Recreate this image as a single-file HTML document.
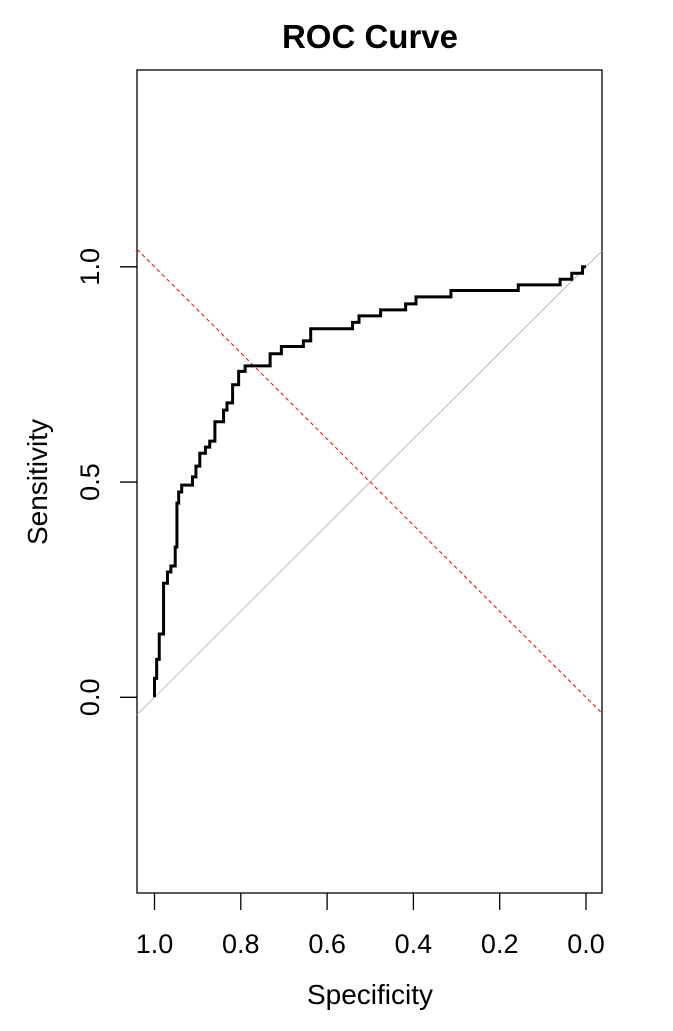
<!DOCTYPE html>
<html><head><meta charset="utf-8"><style>
body{margin:0;background:#fff}
svg{display:block;font-family:"Liberation Sans",Arial,sans-serif}
</style></head><body>
<svg width="673" height="1031">
<text x="370" y="48" text-anchor="middle" font-size="33" font-weight="bold">ROC Curve</text>
<rect x="137" y="70" width="465" height="823" fill="none" stroke="#000" stroke-width="1.3"/>
<g id="axes"></g>
<g id="marks"></g>
<text x="370" y="1004" text-anchor="middle" font-size="28">Specificity</text>
<text transform="translate(47,482) rotate(-90)" text-anchor="middle" font-size="28">Sensitivity</text>
</svg>
<script>
const xTicks=[1.0,0.8,0.6,0.4,0.2,0.0];
const xTickLabels=["1.0","0.8","0.6","0.4","0.2","0.0"];
const yTicks=[0.0,0.5,1.0];
const yTickLabels=["0.0","0.5","1.0"];
const stepSpec=[1.000,0.995,0.989,0.979,0.970,0.962,0.952,0.948,0.944,0.937,0.912,0.904,0.895,0.882,0.872,0.860,0.840,0.832,0.819,0.805,0.790,0.732,0.706,0.655,0.638,0.541,0.526,0.476,0.418,0.394,0.313,0.157,0.060,0.033,0.008];
const stepSens=[0.044,0.088,0.147,0.265,0.291,0.305,0.349,0.451,0.477,0.493,0.512,0.537,0.567,0.581,0.595,0.640,0.667,0.684,0.726,0.757,0.770,0.798,0.815,0.828,0.856,0.871,0.886,0.900,0.914,0.930,0.945,0.958,0.971,0.985,1.000];
const NS="http://www.w3.org/2000/svg";
const X=s=>154.5+(1-s)*431.5;
const Y=v=>697.3-v*430.5;
const axes=document.getElementById('axes'),marks=document.getElementById('marks');
function mk(tag,attrs,parent){const e=document.createElementNS(NS,tag);for(const k in attrs)e.setAttribute(k,attrs[k]);parent.appendChild(e);return e;}
xTicks.forEach((t,i)=>{
 const l=mk('line',{x1:X(t),x2:X(t),y1:893,y2:910,stroke:'#000','stroke-width':1.3},axes);
 
 
 const tx=mk('text',{x:X(t),y:953,'text-anchor':'middle','font-size':27},axes);
 tx.textContent=xTickLabels[i];
 
 
});
yTicks.forEach((t,i)=>{
 const l=mk('line',{x1:120,x2:137,y1:Y(t),y2:Y(t),stroke:'#000','stroke-width':1.3},axes);
 
 
 const tx=mk('text',{transform:`translate(99,${Y(t)}) rotate(-90)`,'text-anchor':'middle','font-size':27},axes);
 tx.textContent=yTickLabels[i];
 
 
});
const sL=1-(137-154.5)/431.5, sR=1-(602-154.5)/431.5;
const d1=mk('line',{x1:137,y1:Y(1-sL),x2:602,y2:Y(1-sR),stroke:'#aaa','stroke-width':0.8},marks);


const d2=mk('line',{x1:137,y1:Y(sL),x2:602,y2:Y(sR),stroke:'#f00','stroke-width':1,'stroke-dasharray':'4,3'},marks);


let d=`M${X(1)},${Y(0)}`,cs=0;
for(let i=0;i<stepSpec.length;i++){d+=` L${X(stepSpec[i])},${Y(cs)} L${X(stepSpec[i])},${Y(stepSens[i])}`;cs=stepSens[i];}
d+=` L${X(0)},${Y(cs)}`;
const p=mk('path',{d:d,fill:'none',stroke:'#000','stroke-width':3},marks);


</script>
</body></html>
